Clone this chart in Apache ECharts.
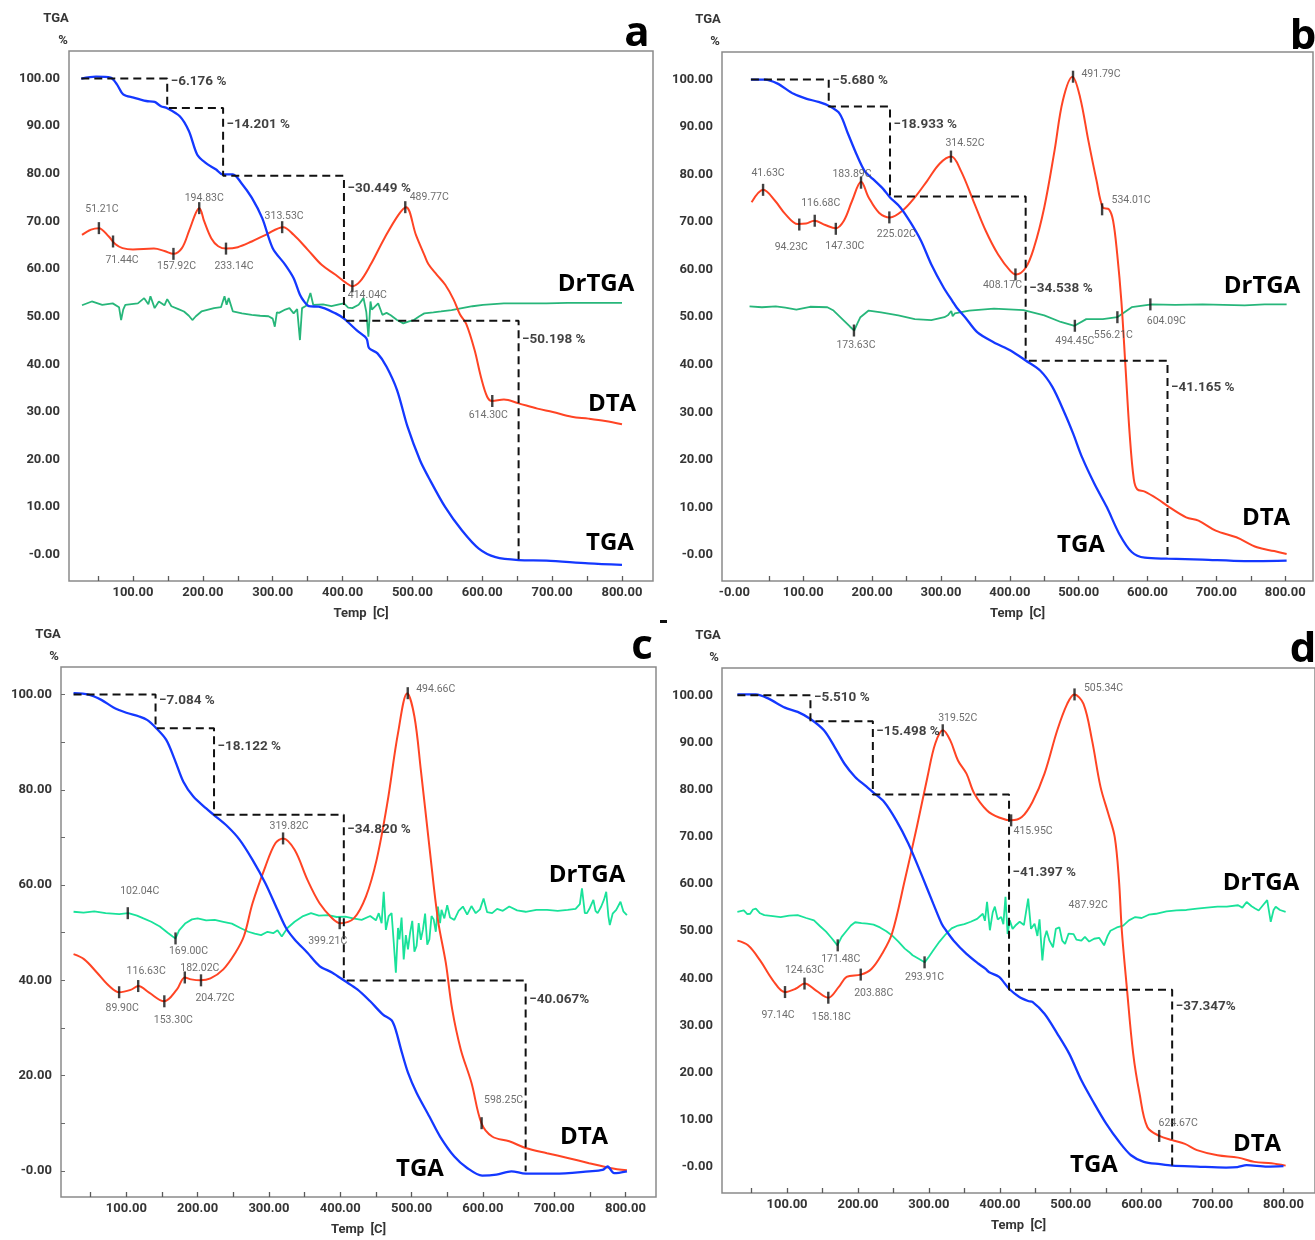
<!DOCTYPE html>
<html><head><meta charset="utf-8">
<script src="https://cdn.jsdelivr.net/npm/echarts@6/dist/echarts.min.js"></script>
<style>html,body{margin:0;padding:0;background:#fff}#c{width:1315px;height:1240px}</style>
</head><body><div id="c"></div>
<script>
// ---------------- DATA ----------------
const xTicks = [100,200,300,400,500,600,700,800];
const xTicksB = [0,100,200,300,400,500,600,700,800];
const xMinorTicks = [50,100,150,200,250,300,350,400,450,500,550,600,650,700,750,800];
const yTicks10 = [0,10,20,30,40,50,60,70,80,90,100];
const yTicks20 = [0,20,40,60,80,100];

// Panel a
const tgaA = [[26,100],[47,100.4],[68,100.2],[77,98.8],[86,96.7],[101,96],[119,95.3],[131,95.1],[140,94.2],[149,93.8],[167,92.1],[180,89],[192,84],[204,82.3],[219,80.9],[228,79.9],[243,79.9],[255,78.1],[270,75],[285,70.7],[300,64.4],[318,60.9],[330,58.1],[339,54.6],[345,53.2],[352,52.2],[366,52.1],[390,50.7],[402,49.6],[420,47.2],[432,45.8],[435,45.2],[438,43.4],[450,42.3],[463,39.5],[478,34.6],[493,26.9],[511,19.8],[523,16.3],[547,10],[571,5.1],[595,1.3],[619,-0.5],[652,-1.1],[692,-1.2],[752,-1.8],[800,-2.1]];
const dtaA = [[27,67.2],[40,68.3],[51,68.6],[65,66.9],[75,65.2],[85,64.4],[100,64.1],[130,64.3],[145,63.8],[158,63.2],[170,64.4],[180,67.9],[190,71.8],[195,72.8],[202,70],[212,66.5],[222,64.8],[234,64.3],[250,64.6],[270,65.8],[290,67.2],[315,68.8],[330,67.2],[350,64.1],[370,60.9],[390,58.8],[405,57.1],[414,56.4],[425,57.4],[440,60.9],[460,66.5],[480,71.4],[491,73],[505,67.2],[517,63],[523,61],[535,58.8],[547,56.7],[559,53.6],[568,50.5],[577,48.5],[589,43],[598,37.4],[607,33.2],[614,32.3],[631,32.6],[652,31.8],[679,30.7],[701,30],[728,29],[752,28.6],[776,28.1],[800,27.4]];
const drtgaA = [[27,52.4],[41,53.2],[56,52.5],[71,52.8],[80,52],[83,49.3],[86,51.5],[89,52.5],[107,52.8],[116,53.9],[122,52.6],[125,54.3],[131,51.8],[137,53.2],[145,52.4],[149,53.7],[155,52.2],[165,51.6],[173,51.1],[180,50.2],[185,49.3],[190,50.1],[198,51.1],[216,51.8],[226,52],[231,54.3],[234,52.5],[237,53.9],[243,51.1],[256,50.7],[270,50.4],[282,50.2],[294,50.1],[300,49.6],[303,47.9],[306,50.9],[309,50.8],[318,51.5],[324,51.8],[330,50.7],[335,51.6],[339,45.1],[342,51.8],[348,52.3],[354,55],[358,52.5],[360,52.8],[372,52.6],[384,52.2],[395,52.6],[402,52.8],[408,51.9],[414,51.8],[423,52.5],[430,53.9],[434,51],[437,45.8],[440,53.2],[442,51.5],[451,52.8],[457,50.4],[463,50.8],[469,50.3],[478,49.3],[487,48.6],[495,49],[502,49.3],[510,50.1],[517,50.7],[530,50.9],[541,51.1],[556,51.4],[571,51.8],[586,52.2],[601,52.5],[631,52.8],[660,52.8],[692,52.8],[722,52.9],[752,52.9],[776,52.9],[800,52.9]];
const peaksA = [[51.21,68.6],[71.44,65.8],[157.92,63.2],[194.83,72.8],[233.14,64.3],[313.53,68.8],[414.04,56.4],[489.77,73],[614.30,32.3]];
const lossA = [6.176,14.201,30.449,50.198];
const stepTA = [26,149,229,402,652];

// Panel b
const tgaB = [[24,100],[44,100],[62,99.2],[86,97],[104,96],[122,95.3],[138,94.4],[153,92.8],[165,88.6],[177,84.4],[189,80.8],[201,79.1],[216,77],[226,75.2],[241,73.1],[256,69.9],[271,66.1],[286,61.1],[304,56.2],[317,53.3],[323,52],[335,50],[353,46.8],[377,44.7],[401,43],[423,40.9],[444,38.8],[462,35.3],[480,29.7],[492,25.5],[505,20.5],[523,14.9],[541,10],[559,4.4],[577,0.6],[596,-0.6],[629,-0.8],[680,-1],[741,-1.3],[760,-1.3],[802,-1.2]];
const dtaB = [[25,74.2],[42,76.8],[59,74.5],[74,71.7],[92,69.6],[104,69.7],[116,70.3],[132,69.4],[147,68.7],[159,70.3],[171,74.5],[184,78.5],[195,75.2],[210,72],[226,71],[244,72.4],[262,75.2],[280,78.7],[298,82.3],[315,83.8],[329,80.8],[347,74.5],[365,68.2],[383,63.2],[401,59.7],[409,59],[423,60.4],[435,64.6],[450,73.1],[465,85.1],[477,95.6],[491,100.6],[502,96.3],[514,87.2],[526,78.7],[535,73.1],[544,72.7],[550,70.3],[556,63.2],[562,53.4],[568,39.5],[574,25.5],[580,16],[585,13.8],[596,13.3],[614,11.8],[632,10],[656,7.9],[674,7.2],[699,5.1],[729,3.7],[759,1.6],[784,0.8],[802,0.2]];
const drtgaB = [[22,52.3],[40,52.1],[60,52.3],[74,52],[90,51.6],[110,52.2],[135,52.1],[144,51.4],[159,49.3],[168,48],[174,47.2],[179,48.8],[183,50],[195,51.4],[213,51],[238,50.4],[262,49.6],[286,49.4],[305,50],[310,50.4],[315,51.3],[317,50.2],[320,50.8],[341,51.4],[377,51.8],[420,51.5],[450,50.4],[474,49],[494,48.2],[511,49.6],[535,49.6],[556,50],[577,52.1],[606,52.7],[640,52.6],[680,52.7],[741,52.5],[770,52.7],[802,52.7]];
const peaksB = [[41.63,76.8],[94.23,69.5],[116.68,70.3],[147.30,68.6],[183.89,78.3],[225.02,71],[314.52,83.8],[408.17,59],[491.79,100.6],[534.01,72.7],[173.63,47.2],[494.45,48.2],[556.21,50],[604.09,52.7]];
const lossB = [5.680,18.933,34.538,41.165];
const stepTB = [24,137,226,423,629];

// Panel c
const tgaC = [[26,100.3],[47,100],[65,98.9],[82,97.3],[100,96.2],[118,95.4],[129,94.7],[141,93.1],[156,90.5],[168,86.3],[180,81.7],[194,78.6],[212,76.1],[223,74.7],[242,72.3],[259,69.5],[277,65.3],[295,60.4],[312,54.8],[324,51],[336,48.6],[354,45.8],[371,43],[389,41.6],[406,39.9],[424,38.1],[442,35.6],[460,32.8],[472,31.6],[478,29.5],[485,25.6],[495,20.6],[507,16.4],[525,11.4],[540,7.2],[560,3],[578,0.6],[599,-1],[619,-0.8],[640,-0.1],[660,-0.6],[701,-0.6],[749,-0.1],[768,0.2],[775,0.9],[784,-0.5],[802,-0.1]];
const dtaC = [[26,45.5],[41,44.4],[59,41.6],[76,38.8],[90,37.5],[106,38],[117,38.8],[132,37.4],[153,35.6],[171,38.1],[182,40.6],[191,40.2],[204,40],[218,40.4],[236,42.3],[253,45.8],[265,49.3],[277,56.2],[295,63.9],[309,68.8],[320,69.8],[336,67.4],[354,61.1],[371,56.2],[389,53],[400,52],[419,53],[436,57.6],[451,65.3],[466,77.2],[481,91.9],[494,100.3],[504,95.4],[513,84.2],[525,68.1],[537,52.7],[548,43.7],[557,33.9],[569,25.5],[584,18.5],[598,10],[613,7.2],[637,6.2],[660,4.8],[690,3.7],[719,2.7],[749,1.6],[778,0.6],[802,0.1]];
const drtgaC = [[26,54.4],[40,54.2],[55,54.5],[71,54.1],[90,53.9],[103,54.1],[115,53.6],[124,53],[135,52.3],[147,51.3],[158,50],[165,49.2],[169,48.8],[174,50.5],[183,52],[192,52.8],[200,53],[212,52.6],[224,52.7],[236,52.3],[248,51.9],[260,51],[271,50.2],[280,49.8],[289,49.5],[298,50.2],[306,49.9],[312,50.5],[318,49.2],[326,51],[336,52.3],[348,53.5],[359,54.1],[370,53.6],[383,53.7],[395,53.3],[407,53.4],[418,53],[430,52.7],[442,53.5],[450,52.6],[454,54.1],[458,52],[461,58.6],[464,50.6],[468,53.5],[472,54.1],[475,48],[478,41.6],[481,51],[483,48.6],[486,53.2],[489,44.4],[492,49.5],[495,46.5],[498,50],[501,52.5],[504,46],[507,47.2],[510,52],[513,48.5],[516,50.7],[519,54],[522,47.5],[525,48.6],[528,53.5],[531,52.8],[534,50.2],[537,55.5],[540,52],[542,54.8],[546,53],[550,55.8],[554,53.2],[560,52.7],[566,54.6],[572,55.5],[578,53.8],[584,55.6],[590,54.1],[596,54.9],[601,57.2],[606,54.3],[613,54.1],[620,55],[628,54.6],[637,55.5],[648,54.7],[660,54.4],[675,54.8],[690,54.8],[705,54.6],[719,54.8],[730,55],[736,56],[739,59.3],[743,54.1],[746,54.1],[750,55.2],[755,56.9],[758,54.6],[761,54.1],[766,55.5],[770,57],[773,58.6],[776,53.5],[778,51.6],[782,54],[787,54.8],[793,56.5],[797,54.5],[802,53.7]];
const peaksC = [[102.04,54.1],[169.00,48.8],[399.21,52],[89.90,37.5],[116.63,38.8],[153.30,35.6],[182.02,40.6],[204.72,40],[319.82,69.8],[494.66,100.3],[598.25,10]];
const lossC = [7.084,18.122,34.820,40.067];
const stepTC = [26,141,223,405,660];

// Panel d
const tgaD = [[30,100.2],[56,100.2],[74,99.3],[97,97.4],[115,96.5],[133,95],[152,92.6],[167,89.1],[181,85.5],[196,82.7],[210,80.9],[221,79.5],[237,77.4],[254,73.5],[271,68.6],[289,62.2],[306,55.9],[318,51.6],[324,50.2],[335,48],[353,45.2],[370,43.1],[380,42],[385,41.3],[399,40.3],[413,37.8],[428,36],[440,35.2],[446,35],[463,32.5],[481,28.3],[498,24],[515,18.4],[533,13.5],[550,9.2],[568,5.4],[585,2.5],[603,1.1],[626,0.6],[643,0.3],[678,0.1],[719,-0.1],[735,0],[748,0.4],[777,0.1],[800,0.2]];
const dtaD = [[30,48],[45,47],[62,43.8],[80,39.6],[97,37.1],[112,37.8],[125,38.9],[141,37.4],[158,35.9],[173,38.2],[184,40.3],[204,40.8],[219,42],[234,45.2],[248,49.5],[266,60.8],[283,72.1],[298,82.7],[309,89.8],[320,92.6],[330,90.5],[341,86.2],[353,83.4],[364,79.2],[382,75.6],[399,74.1],[416,73.5],[431,74.2],[446,77.4],[463,83.4],[481,92.6],[495,98.2],[505,100.2],[518,98.2],[530,90.5],[542,80.6],[553,74.9],[562,70],[568,60.8],[572,50.2],[579,38.2],[588,24.1],[597,15.6],[608,8.5],[625,6.6],[643,5.7],[661,4.9],[678,3.6],[707,2.5],[736,2],[759,1.1],[783,0.8],[803,0.3]];
const drtgaD = [[30,54.1],[39,54.4],[44,53.6],[48,53.7],[52,54.6],[56,54.8],[62,53.8],[68,53.4],[80,53.2],[91,53],[103,53.3],[115,53.4],[127,52.8],[138,52.3],[147,51],[155,49.9],[163,48.5],[171,47],[177,48.8],[184,50.1],[190,51.2],[196,51.9],[205,51.7],[213,51.6],[222,51.4],[231,50.8],[240,50],[248,49.1],[257,47.8],[266,46.3],[272,45.6],[277,44.9],[285,44.2],[294,43.4],[300,44.6],[306,45.9],[315,47.8],[324,49.4],[332,50.6],[341,51.2],[350,51.5],[359,52],[368,52.6],[376,53.7],[379,52.2],[382,56.2],[386,50.2],[390,54],[393,55.2],[397,52.5],[402,53],[405,51.5],[408,57.3],[411,49.4],[414,52.3],[418,50.5],[422,51.2],[428,52],[434,51.3],[440,56.9],[444,50.5],[449,51.6],[453,49],[456,52.5],[460,43.8],[463,48.5],[466,50.1],[470,48],[475,46.6],[479,50.5],[484,50.8],[488,48],[492,47.3],[497,49.5],[504,49.4],[508,48.2],[515,48],[520,48.8],[526,47.8],[533,48.4],[540,48.6],[547,47],[552,49],[556,50.1],[565,50.8],[574,51.2],[582,52.3],[591,53],[600,52.8],[610,53.5],[620,53.7],[635,54.2],[649,54.4],[663,54.5],[678,54.8],[692,55],[707,55.2],[720,55.2],[736,55.5],[742,55],[748,56.2],[755,55.3],[760,54.8],[765,54.4],[771,55.5],[777,56.6],[782,52],[786,54.5],[789,55.2],[795,54.5],[803,54.1]];
const peaksD = [[97.14,37.1],[124.63,38.9],[158.18,35.9],[203.88,40.8],[319.52,92.6],[415.95,73.5],[505.34,100.2],[624.67,6.6],[171.48,47],[293.91,43.4],[487.92,47.5]];
const lossD = [5.510,15.498,41.397,37.347];
const stepTD = [30,133,221,413,643];

// ---------------- LAYOUT (positions / styles) ----------------
const FONT_N = "Roboto,sans-serif";
const FONT_B = "'Open Sans','Noto Sans',sans-serif";
const C_TGA = '#1438ff', C_DTA = '#ff4424';

const panels = [
  {tga:tgaA, dta:dtaA, dr:drtgaA, peaks:peaksA, loss:lossA, stepT:stepTA,
   grid:{left:69,top:51,width:584,height:530}, xMin:8.4, xMax:844.4, xLab:xTicks, yLab:yTicks10, drColor:'#27b67a',
   off:[[3,-19],[9,19],[3,13],[5,-10],[8,18],[2,-11],[15,9],[24,-10],[-4,14]],
   noSym:[], pctDy:[3.3,16.3,13,18.9], pctSep:[' %',' %',' %',' %'],
   names:[['DrTGA',596,284],['DTA',612,404],['TGA',610,543]], letter:['a',637,34], tga2:[56,19,63,41], yTicksMinor:null},
  {tga:tgaB, dta:dtaB, dr:drtgaB, peaks:peaksB, loss:lossB, stepT:stepTB,
   grid:{left:722,top:52,width:591,height:529}, xMin:-18, xMax:840.3, xLab:xTicksB, yLab:yTicks10, drColor:'#27b67a',
   off:[[5,-16],[-8,23],[6,-17],[9,18],[-9,-8],[7,17],[14,-13],[-13,11],[28,-2],[29,-9],[2,15],[0,16],[-4,18],[16,17]],
   noSym:[], pctDy:[1.4,17.7,91.6,27.3], pctSep:[' %',' %',' %',' %'],
   names:[['DrTGA',1262,286],['DTA',1266,518],['TGA',1081,545]], letter:['b',1303,37], tga2:[708,20,715,42], yTicksMinor:null},
  {tga:tgaC, dta:dtaC, dr:drtgaC, peaks:peaksC, loss:lossC, stepT:stepTC,
   grid:{left:61,top:667,width:595,height:530}, xMin:8.4, xMax:842.8, xLab:xTicks, yLab:yTicks20, drColor:'#19e29a',
   off:[[12,-22],[13,13],[-12,18],[3,16],[8,-15],[9,19],[15,-9],[14,18],[6,-12],[28,-4],[22,-23]],
   noSym:[], pctDy:[6.2,17.8,15.2,18.9], pctSep:[' %',' %',' %','%'],
   names:[['DrTGA',587,875],['DTA',584,1137],['TGA',420,1169]], letter:['c',642,647], tga2:[48,635,54,657], yTicksMinor:yTicks10},
  {tga:tgaD, dta:dtaD, dr:drtgaD, peaks:peaksD, loss:lossD, stepT:stepTD,
   grid:{left:722,top:668,width:602,height:525}, xMin:8.3, xMax:844.4, xLab:xTicks, yLab:yTicks10, drColor:'#19e29a',
   off:[[-7,23],[0,-13],[3,20],[13,19],[15,-12],[22,11],[29,-6],[19,-13],[3,14],[0,15],[26,-38]],
   noSym:[10], pctDy:[2.4,9.9,78.3,16.5], pctSep:[' %',' %',' %','%'],
   names:[['DrTGA',1261,883],['DTA',1257,1144],['TGA',1094,1165]], letter:['d',1303,650], tga2:[708,636,714,658], yTicksMinor:null}
];

const fmt = v => (v === 0 ? '-0.00' : v.toFixed(2));

const option = {animation:false, backgroundColor:'#fff', grid:[], xAxis:[], yAxis:[], series:[], graphic:[]};

panels.forEach((p, i) => {
  option.grid.push(Object.assign({show:true, borderColor:'#8a8a8a', borderWidth:1.5, backgroundColor:'transparent'}, p.grid));
  option.xAxis.push({
    type:'value', gridIndex:i, min:p.xMin, max:p.xMax,
    axisLine:{show:false, onZero:false}, splitLine:{show:false},
    axisTick:{show:true, inside:true, length:5, customValues:xMinorTicks, lineStyle:{color:'#5a5a5a', width:1.3}},
    axisLabel:{customValues:p.xLab, formatter:fmt, fontFamily:FONT_N, fontWeight:'bold', fontSize:13, color:'#353535', margin:5},
    name:'Temp  [C]', nameLocation:'middle', nameGap:26,
    nameTextStyle:{fontFamily:FONT_N, fontWeight:'bold', fontSize:13, color:'#353535'}
  });
  option.yAxis.push({
    type:'value', gridIndex:i, min:-5.5, max:105.8,
    axisLine:{show:false, onZero:false}, splitLine:{show:false},
    axisTick:{show:!!p.yTicksMinor, inside:true, length:4, customValues:p.yTicksMinor || yTicks10, lineStyle:{color:'#6a6a6a'}},
    axisLabel:{customValues:p.yLab, formatter:fmt, fontFamily:FONT_N, fontWeight:'bold', fontSize:13, color:'#353535', margin:9}
  });
  const base = {xAxisIndex:i, yAxisIndex:i, silent:true};
  option.series.push(Object.assign({type:'line', name:'DrTGA', data:p.dr, showSymbol:false, lineStyle:{color:p.drColor, width:1.8}, z:2}, base));
  option.series.push(Object.assign({type:'line', name:'DTA', data:p.dta, showSymbol:false, smooth:0.35, lineStyle:{color:C_DTA, width:2}, z:3}, base));
  option.series.push(Object.assign({type:'line', name:'TGA', data:p.tga, showSymbol:false, smooth:0.3, lineStyle:{color:C_TGA, width:2.3}, z:4}, base));
  // mass-loss steps
  const levels = [100];
  p.loss.forEach(l => levels.push(+(levels[levels.length-1] - l).toFixed(3)));
  const steps = [[p.stepT[0], levels[0]]];
  for (let k = 1; k < p.stepT.length; k++) {
    steps.push([p.stepT[k], levels[k-1]]);
    steps.push([p.stepT[k], levels[k]]);
  }
  option.series.push(Object.assign({type:'line', data:steps, showSymbol:false, lineStyle:{color:'#111', width:2, type:[8,5]}, z:5}, base));
  option.series.push(Object.assign({
    type:'scatter', symbolSize:1, itemStyle:{color:'rgba(0,0,0,0)'}, z:7,
    data:p.loss.map((l, k) => ({value:[p.stepT[k+1], levels[k]],
      label:{offset:[0, p.pctDy[k]], formatter:'\u2212' + l.toFixed(3) + p.pctSep[k]}})),
    label:{show:true, position:'right', distance:3, fontFamily:FONT_N, fontWeight:'bold', fontSize:13.5, color:'#111'}
  }, base));
  // peak markers
  option.series.push(Object.assign({
    type:'scatter', symbol:'rect', symbolSize:[2.4,12], itemStyle:{color:'#111'}, z:8,
    data:p.peaks.map((pk, k) => {
      const it = {value:pk, label:{offset:p.off[k]}};
      if (p.noSym.indexOf(k) >= 0) it.symbolSize = 0;
      return it;
    }),
    label:{show:true, position:'inside', formatter:q => q.value[0].toFixed(2) + 'C',
      fontFamily:FONT_N, fontSize:10.5, color:'#4a4a4a', textBorderWidth:0}
  }, base));
  // texts
  p.names.forEach(n => option.graphic.push({type:'text', x:n[1], y:n[2], silent:true,
    style:{text:n[0], fontFamily:FONT_B, fontWeight:'bold', fontSize:24, fill:'#000', align:'center', verticalAlign:'middle'}}));
  option.graphic.push({type:'text', x:p.letter[1], y:p.letter[2], silent:true,
    style:{text:p.letter[0], fontFamily:FONT_B, fontWeight:'bold', fontSize:42, fill:'#000', align:'center', verticalAlign:'middle'}});
  option.graphic.push({type:'text', x:p.tga2[0], y:p.tga2[1], silent:true,
    style:{text:'TGA', fontFamily:FONT_N, fontWeight:'bold', fontSize:13, fill:'#353535', align:'center', verticalAlign:'middle'}});
  option.graphic.push({type:'text', x:p.tga2[2], y:p.tga2[3], silent:true,
    style:{text:'%', fontFamily:FONT_N, fontWeight:'bold', fontSize:13, fill:'#353535', align:'center', verticalAlign:'middle'}});
});
option.graphic.push({type:'rect', shape:{x:660, y:620, width:7, height:3}, style:{fill:'#111'}, silent:true});

const chart = echarts.init(document.getElementById('c'), null, {renderer:'canvas'});
chart.setOption(option);
</script>
</body></html>
